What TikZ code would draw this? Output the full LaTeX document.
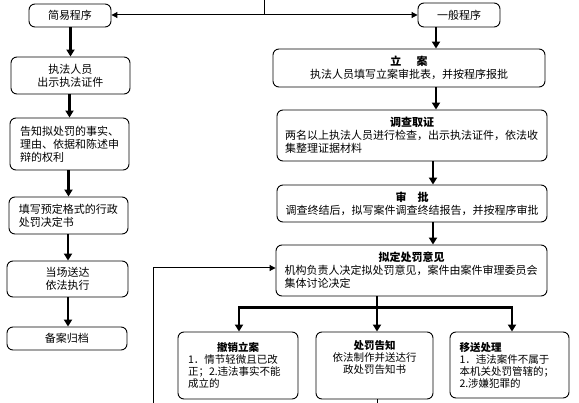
\documentclass[tikz,border=0pt]{standalone}
\usepackage{fontspec}
\newfontfamily\cjk{Noto Sans CJK SC}
\usetikzlibrary{arrows.meta}
\begin{document}
\begin{tikzpicture}[x=1pt,y=-1pt,
  box/.style={draw, line width=0.9pt, rounded corners=6pt, inner sep=2pt,
    font=\cjk\fontsize{11}{13}\selectfont, align=center},
  lbox/.style={box, align=left},
  sbox/.style={box, font=\cjk\fontsize{10.5}{12}\selectfont},
  arr/.style={line width=2.4pt, -{Triangle[length=7pt,width=8pt]}},
  tarr/.style={line width=1pt, -{Triangle[length=6pt,width=6pt]}},
  plain/.style={line width=1pt}]
\useasboundingbox (0,0) rectangle (579,403);
\fill[white] (0,0) rectangle (579,403);

% left column
\node[box, minimum width=82pt, minimum height=23pt] (jy) at (70,15.5) {简易程序};
\node[box, minimum width=119pt, minimum height=37pt] (zf) at (70.5,75.5) {执法人员\\出示执法证件};
\node[lbox, text width=99pt, inner xsep=10pt, minimum height=52pt] (gz) at (69.5,144)
  {告知拟处罚的事实、\\理由、依据和陈述申\\辩的权利};
\node[lbox, text width=99pt, inner xsep=10pt, minimum height=37pt] (tx) at (68.5,215.5)
  {填写预定格式的行政\\处罚决定书};
\node[box, minimum width=121pt, minimum height=36pt] (ds) at (67.5,279) {当场送达\\依法执行};
\node[box, minimum width=120pt, minimum height=23pt] (ba) at (67,338.5) {备案归档};

% right column
\node[box, minimum width=82pt, minimum height=24pt] (yb) at (459,15) {一般程序};
\node[box, minimum width=272pt, minimum height=38pt] (la) at (409,68)
  {{\bfseries 立\hspace{1.4em}案}\\执法人员填写立案审批表，并按程序报批};
\node[lbox, text width=254pt, inner xsep=8pt, minimum height=51pt] (dc) at (412,135.5)
  {\makebox[\hsize]{\bfseries 调查取证}\\两名以上执法人员进行检查，出示执法证件，依法收\\集整理证据材料};
\node[box, minimum width=270pt, minimum height=37pt] (sp) at (412,203.5)
  {{\bfseries 审\hspace{1em}批}\\调查终结后，拟写案件调查终结报告，并按程序审批};
\node[lbox, text width=254pt, inner xsep=8.5pt, minimum height=51pt] (nd) at (411.5,270.5)
  {\makebox[\hsize]{\bfseries 拟定处罚意见}\\机构负责人决定拟处罚意见，案件由案件审理委员会\\集体讨论决定};

% bottom row
\node[sbox, align=left, text width=100pt, inner xsep=10pt, minimum height=67pt] (cx) at (238,365.5)
  {\makebox[\hsize]{\bfseries 撤销立案}\\1．情节轻微且已改\\正；2.违法事实不能\\成立的\\[3pt]};
\node[sbox, minimum width=117pt, minimum height=67pt] (cf) at (374.5,365.5)
  {{\bfseries 处罚告知}\\依法制作并送达行\\政处罚告知书\\[5pt]};
\node[sbox, align=left, text width=100pt, inner xsep=9.5pt, minimum height=66pt] (ys) at (509.5,365)
  {{\bfseries 移送处理}\\1．违法案件不属于\\本机关处罚管辖的；\\2.涉嫌犯罪的};

% top split
\coordinate (top) at (264,-5);
\draw[tarr] (top) |- ([yshift=0.5pt]jy.east);
\draw[tarr] (top) |- (yb.west);

% left arrows
\draw[arr] ([xshift=0.5pt]jy.south) -- ([xshift=0.5pt]jy.south |- zf.north);
\draw[arr] ([xshift=-1pt]zf.south) -- ([xshift=-1pt]zf.south |- gz.north);
\draw[arr] ([xshift=-1pt]gz.south) -- ([xshift=-1pt]gz.south |- tx.north);
\draw[arr] ([xshift=-0.5pt]tx.south) -- ([xshift=-0.5pt]tx.south |- ds.north);
\draw[arr] ([xshift=0.5pt]ds.south) -- ([xshift=0.5pt]ds.south |- ba.north);

% right arrows
\draw[arr] ([xshift=-23pt]yb.south) -- ([xshift=-23pt]yb.south |- la.north);
\draw[arr] ([xshift=27pt]la.south) -- ([xshift=27pt]la.south |- dc.north);
\draw[arr] ([xshift=21pt]dc.south) -- ([xshift=21pt]dc.south |- sp.north);
\draw[arr] ([xshift=21pt]sp.south) -- ([xshift=21pt]sp.south |- nd.north);

% branches
\coordinate (bm) at ([xshift=-34.5pt,yshift=-11pt]nd.south);
\draw[arr] ([xshift=-34.5pt]nd.south) -- ([xshift=-34.5pt]nd.south |- cf.north);
\draw[arr] (bm) -| ([xshift=1pt]cx.north);
\draw[arr] (bm) -| ([xshift=2.5pt]ys.north);

% continuation below 处罚告知
\coordinate (cfend) at ([xshift=2.5pt,yshift=-12pt]cf.south);
\draw[plain] ([xshift=2.5pt]cf.south) -- (cfend);

% loop back into 拟定处罚意见
\coordinate (lp) at (153,410);
\draw[tarr] (lp) |- ([yshift=2.5pt]nd.west);
\end{tikzpicture}
\end{document}
